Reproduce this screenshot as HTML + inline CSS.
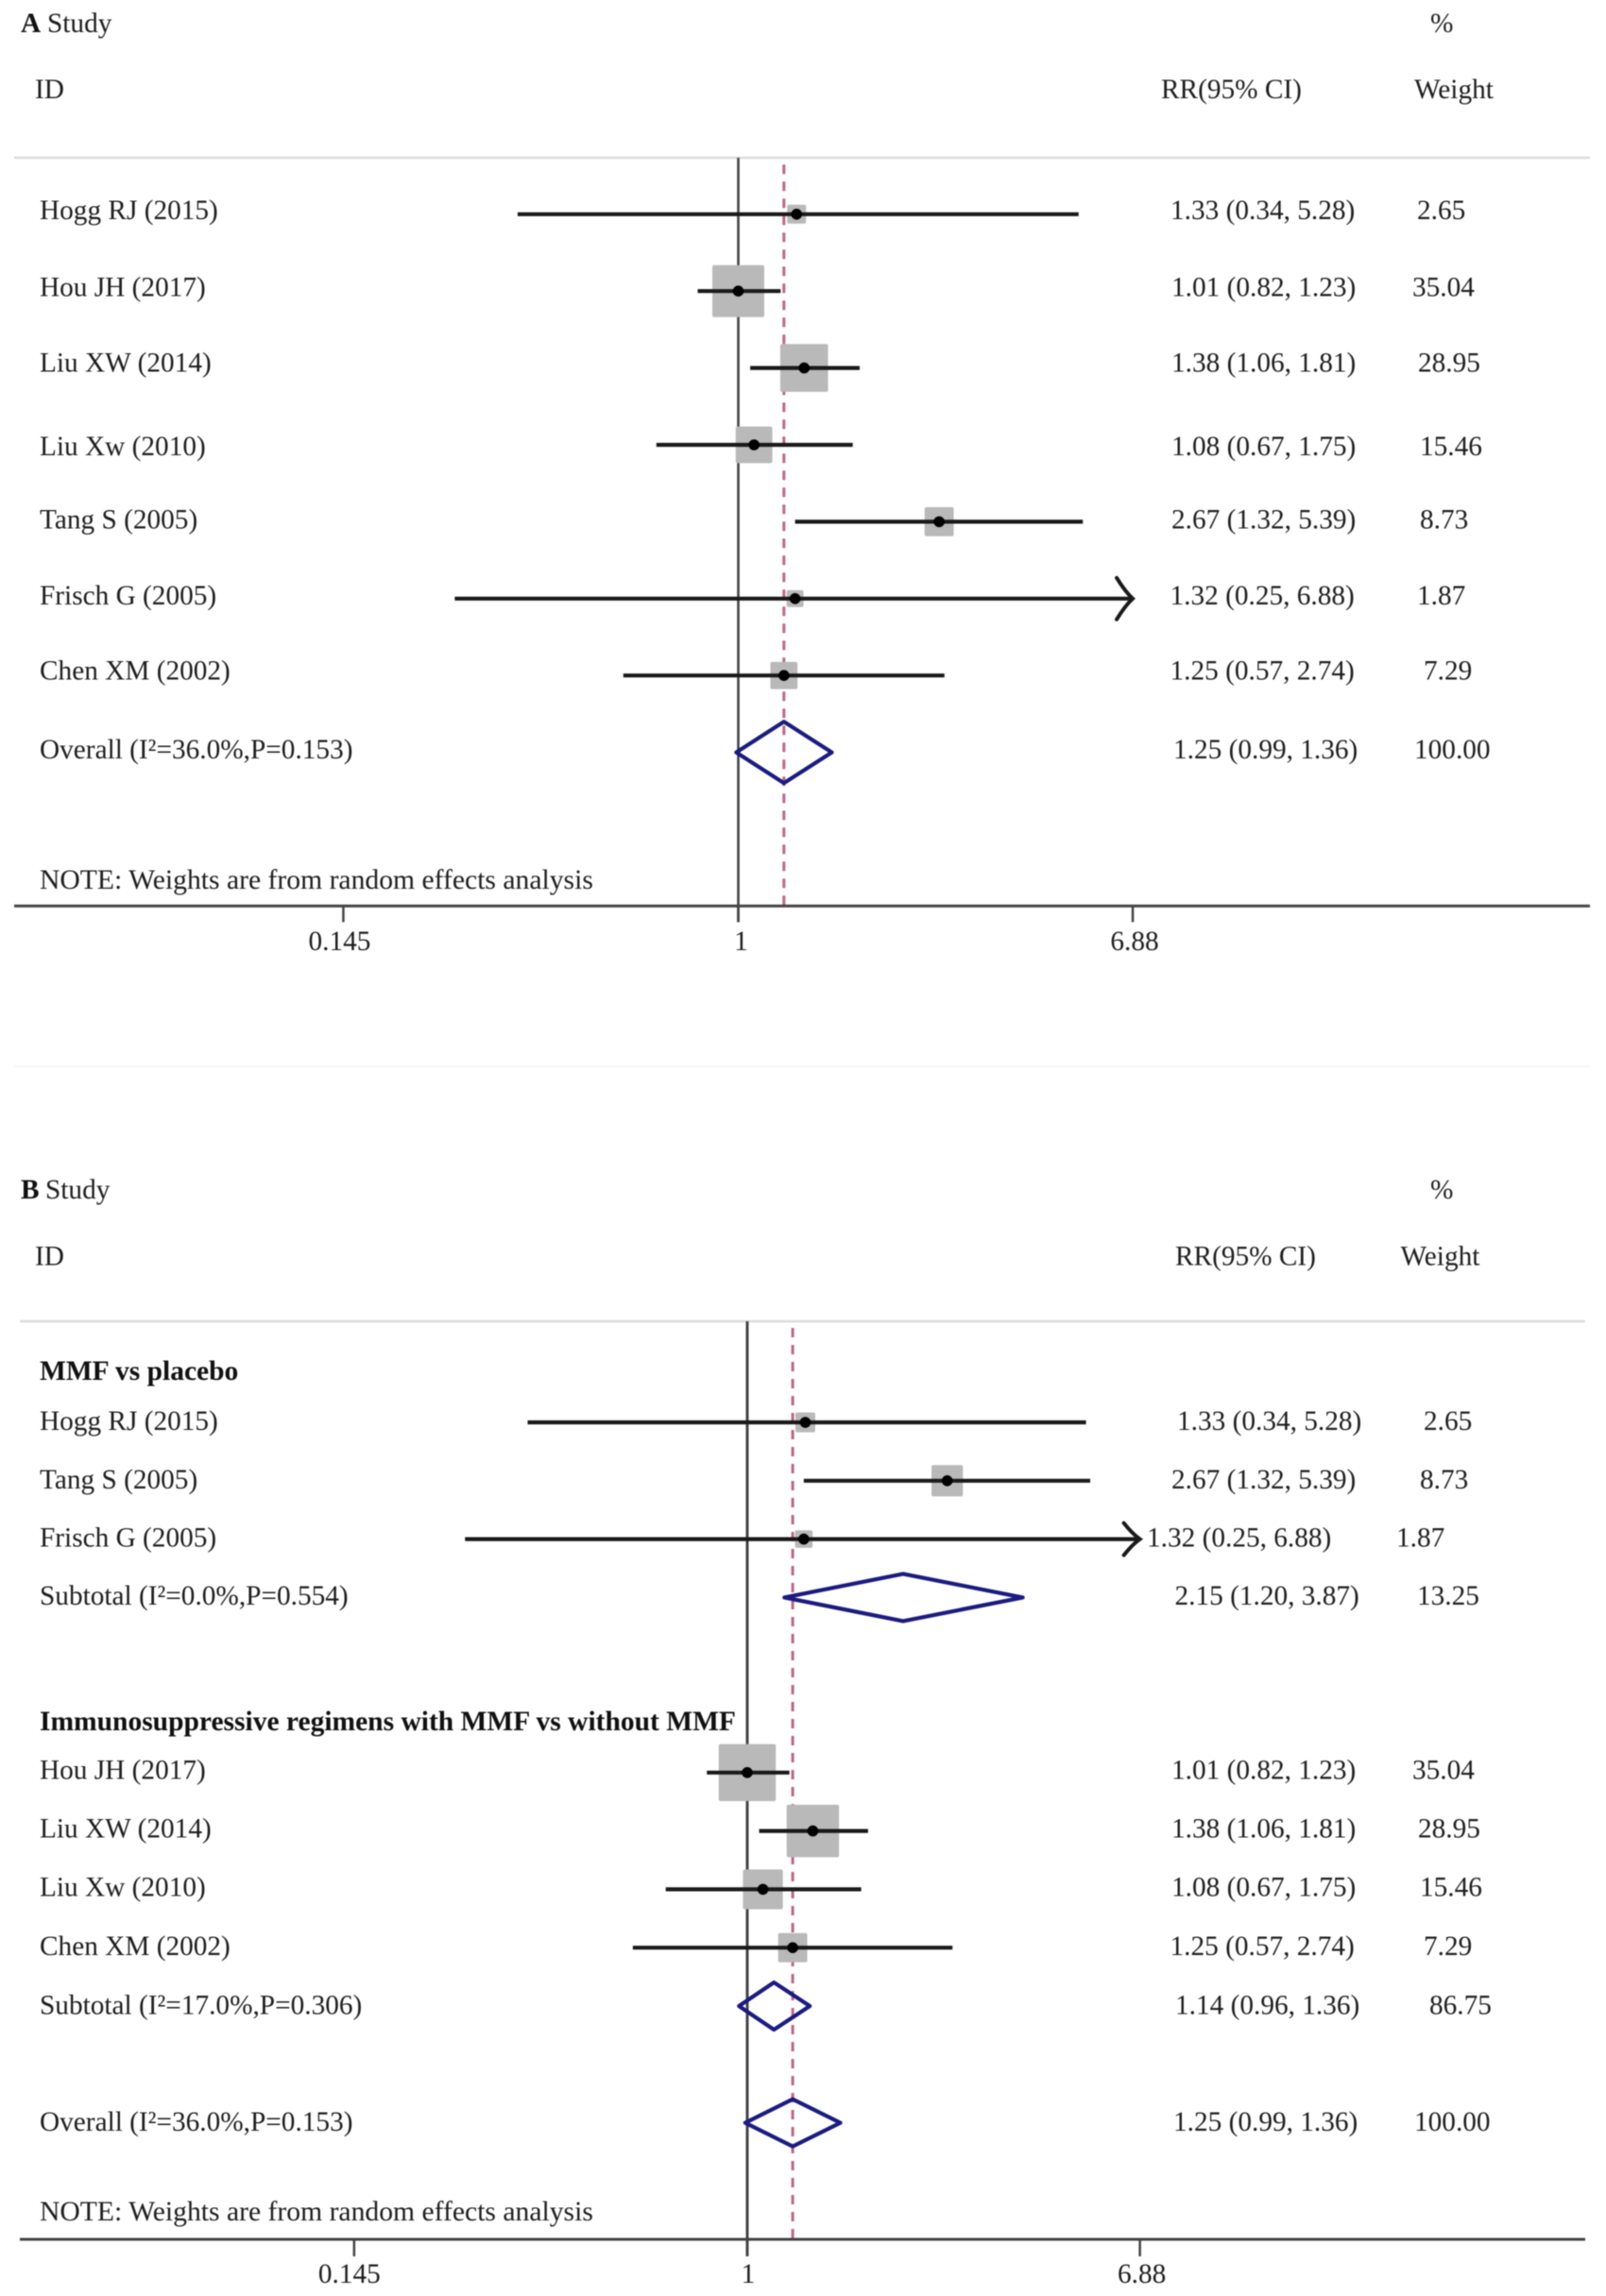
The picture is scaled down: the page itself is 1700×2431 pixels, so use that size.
<!DOCTYPE html>
<html lang="en">
<head>
<meta charset="utf-8">
<title>Forest plots</title>
<style>
html,body{margin:0;padding:0;background:#fff;width:1700px;height:2431px;overflow:hidden}
svg{display:block;filter:blur(.55px)}
text{font-family:"Liberation Serif","Times New Roman",serif;font-size:29.3px;fill:#1e1e1e}
.b{font-weight:bold;fill:#111}
.n{font-size:29.65px}
.g{font-size:29.5px}
</style>
</head>
<body>
<svg id="chart" xmlns="http://www.w3.org/2000/svg" width="1700" height="2431" viewBox="0 0 1700 2431">
<rect x="0" y="0" width="1700" height="2431" fill="#fff"/>
<line x1="15" x2="1683" y1="1129" y2="1129" stroke="#f6f6f6" stroke-width="2"/>

<g id="panelA">
<line x1="15" x2="1683" y1="167" y2="167" stroke="#dcdcdc" stroke-width="2.5"/>
<text class="b" x="22" y="34">A</text>
<text x="50" y="34">Study</text>
<text x="37" y="104">ID</text>
<text x="1229" y="104">RR(95% CI)</text>
<text x="1514" y="34">%</text>
<text x="1497" y="104">Weight</text>

<text x="42" y="232">Hogg RJ (2015)</text>
<text x="42" y="313.5">Hou JH (2017)</text>
<text x="42" y="393.5">Liu XW (2014)</text>
<text x="42" y="482">Liu Xw (2010)</text>
<text x="42" y="559.5">Tang S (2005)</text>
<text x="42" y="640">Frisch G (2005)</text>
<text x="42" y="719.5">Chen XM (2002)</text>
<text x="42" y="803">Overall (I²=36.0%,P=0.153)</text>
<text class="n" x="42" y="941">NOTE: Weights are from random effects analysis</text>

<text x="1239" y="232">1.33 (0.34, 5.28)</text>
<text x="1240" y="313.5">1.01 (0.82, 1.23)</text>
<text x="1240" y="393.5">1.38 (1.06, 1.81)</text>
<text x="1240" y="482">1.08 (0.67, 1.75)</text>
<text x="1240" y="559.5">2.67 (1.32, 5.39)</text>
<text x="1238.5" y="640">1.32 (0.25, 6.88)</text>
<text x="1238.5" y="719.5">1.25 (0.57, 2.74)</text>
<text x="1242" y="803">1.25 (0.99, 1.36)</text>

<text x="1500" y="232">2.65</text>
<text x="1495" y="313.5">35.04</text>
<text x="1501" y="393.5">28.95</text>
<text x="1503" y="482">15.46</text>
<text x="1503" y="559.5">8.73</text>
<text x="1500" y="640">1.87</text>
<text x="1507" y="719.5">7.29</text>
<text x="1497" y="803">100.00</text>
</g>

<g id="panelB">
<line x1="21" x2="1678" y1="1399" y2="1399" stroke="#dcdcdc" stroke-width="2.5"/>
<text class="b" x="22" y="1269">B</text>
<text x="48" y="1269">Study</text>
<text x="37" y="1339.5">ID</text>
<text x="1244" y="1339.5">RR(95% CI)</text>
<text x="1514" y="1269">%</text>
<text x="1482.5" y="1339.5">Weight</text>

<text class="b g" x="42" y="1461">MMF vs placebo</text>
<text x="42" y="1514">Hogg RJ (2015)</text>
<text x="42" y="1576">Tang S (2005)</text>
<text x="42" y="1637.5">Frisch G (2005)</text>
<text x="42" y="1699">Subtotal (I²=0.0%,P=0.554)</text>
<text class="b g" x="42" y="1832">Immunosuppressive regimens with MMF vs without MMF</text>
<text x="42" y="1883.5">Hou JH (2017)</text>
<text x="42" y="1945.5">Liu XW (2014)</text>
<text x="42" y="2007.5">Liu Xw (2010)</text>
<text x="42" y="2070">Chen XM (2002)</text>
<text x="42" y="2132.5">Subtotal (I²=17.0%,P=0.306)</text>
<text x="42" y="2256">Overall (I²=36.0%,P=0.153)</text>
<text class="n" x="42" y="2351">NOTE: Weights are from random effects analysis</text>

<text x="1246" y="1514">1.33 (0.34, 5.28)</text>
<text x="1240" y="1576">2.67 (1.32, 5.39)</text>
<text x="1214" y="1637.5">1.32 (0.25, 6.88)</text>
<text x="1243.5" y="1699">2.15 (1.20, 3.87)</text>
<text x="1240" y="1883.5">1.01 (0.82, 1.23)</text>
<text x="1240" y="1945.5">1.38 (1.06, 1.81)</text>
<text x="1240" y="2007.5">1.08 (0.67, 1.75)</text>
<text x="1238.5" y="2070">1.25 (0.57, 2.74)</text>
<text x="1244" y="2132.5">1.14 (0.96, 1.36)</text>
<text x="1242" y="2256">1.25 (0.99, 1.36)</text>

<text x="1507" y="1514">2.65</text>
<text x="1503" y="1576">8.73</text>
<text x="1478" y="1637.5">1.87</text>
<text x="1500" y="1699">13.25</text>
<text x="1495" y="1883.5">35.04</text>
<text x="1501" y="1945.5">28.95</text>
<text x="1503" y="2007.5">15.46</text>
<text x="1507" y="2070">7.29</text>
<text x="1513" y="2132.5">86.75</text>
<text x="1497" y="2256">100.00</text>
</g>
</svg>

<script>
// Shared axis data
const tickValues = [0.145, 1, 6.88];
const tickLabels = ["0.145", "1", "6.88"];
const nullValue = 1;
const overallEffect = 1.25;

// Panel A data (row index, drawn point estimate, CI, weight %)
const rowsA = [0, 1, 2, 3, 4, 5, 6];
const estimatesA = [1.33, 1.00, 1.38, 1.08, 2.67, 1.32, 1.25];
const lowersA = [0.34, 0.82, 1.06, 0.67, 1.32, 0.25, 0.57];
const uppersA = [5.28, 1.23, 1.81, 1.75, 5.39, 6.88, 2.74];
const weightsA = [2.65, 35.04, 28.95, 15.46, 8.73, 1.87, 7.29];
const pooledRowsA = [7];
const pooledLowersA = [0.99];
const pooledEstimatesA = [1.25];
const pooledUppersA = [1.58];

// Panel B data
const rowsB = [0, 1, 2, 6, 7, 8, 9];
const estimatesB = [1.33, 2.67, 1.32, 1.00, 1.38, 1.08, 1.25];
const lowersB = [0.34, 1.32, 0.25, 0.82, 1.06, 0.67, 0.57];
const uppersB = [5.28, 5.39, 6.88, 1.23, 1.81, 1.75, 2.74];
const weightsB = [2.65, 8.73, 1.87, 35.04, 28.95, 15.46, 7.29];
const pooledRowsB = [3, 10, 12];
const pooledLowersB = [1.20, 0.96, 0.99];
const pooledEstimatesB = [2.15, 1.14, 1.25];
const pooledUppersB = [3.87, 1.36, 1.58];

const SVGNS = "http://www.w3.org/2000/svg";
function make(parent, tag, attrs) {
  const el = document.createElementNS(SVGNS, tag);
  for (const k in attrs) el.setAttribute(k, attrs[k]);
  parent.appendChild(el);
  return el;
}

function drawPanel(p) {
  const g = document.getElementById(p.id);
  const x = v => p.x1 + p.scale * Math.log(v);
  const y = r => p.y0 + p.step * r;
  const maxV = tickValues[tickValues.length - 1];

  // null reference line
  const nullLine = make(g, "line", {x1: x(nullValue), x2: x(nullValue), y1: p.ruleY, y2: p.axisY + p.tickLen, stroke: "#444", "stroke-width": p.nullWidth});
  
  

  // overall effect dashed line, dashes counted up from the axis
  const dash = make(g, "line", {x1: x(overallEffect), x2: x(overallEffect), y1: p.axisY - 1, y2: p.ruleY, stroke: "#c0648a", "stroke-width": 3, "stroke-dasharray": "10 8"});
  
  

  // axis
  const axis = make(g, "line", {x1: p.axisL, x2: p.axisR, y1: p.axisY, y2: p.axisY, stroke: "#444", "stroke-width": 3});
  
  

  tickValues.forEach((v, i) => {
    const t = make(g, "line", {x1: x(v), x2: x(v), y1: p.axisY, y2: p.axisY + p.tickLen, stroke: "#444", "stroke-width": 2.5});
    
    
    const lab = make(g, "text", {x: x(v) + p.labelNudge[i], y: p.tickTextY, "text-anchor": "middle"});
    
    
    lab.textContent = tickLabels[i];
  });

  // studies
  p.rows.forEach((r, i) => {
    const cy = y(r);
    const s = p.boxA + p.boxB * Math.sqrt(p.weights[i]);
    const box = make(g, "rect", {x: x(p.est[i]) - s / 2, y: cy - s / 2, width: s, height: s, rx: 2, fill: "#b9b9b9"});
    
    

    const hiX = x(p.upp[i]);
    const ci = make(g, "line", {x1: x(p.low[i]), x2: hiX, y1: cy, y2: cy, stroke: "#1a1a1a", "stroke-width": 4.2});
    
    

    if (p.upp[i] >= maxV) {
      const arrow = make(g, "path", {d: "M" + (hiX - 17) + " " + (cy - p.barb) + "Q" + (hiX - 8) + " " + (cy - p.barb / 3) + " " + hiX + " " + cy + "Q" + (hiX - 8) + " " + (cy + p.barb / 3) + " " + (hiX - 17) + " " + (cy + p.barb), fill: "none", stroke: "#1a1a1a", "stroke-width": 4, "stroke-linecap": "round"});
      
      
    }

    const dot = make(g, "circle", {cx: x(p.est[i]), cy: cy, r: 5.8, fill: "#000"});
    
    
  });

  // pooled diamonds
  p.pRows.forEach((r, i) => {
    const cy = y(r);
    const pts = [[x(p.pLow[i]), cy], [x(p.pEst[i]), cy - p.diamondH], [x(p.pUpp[i]), cy], [x(p.pEst[i]), cy + p.diamondH]];
    const d = make(g, "polygon", {points: pts.map(a => a.join(",")).join(" "), fill: "none", stroke: "#1b1b80", "stroke-width": 4.2, "stroke-linejoin": "round"});
    
    
  });
}

drawPanel({id: "panelA", x1: 781.5, scale: 216.5, y0: 226.8, step: 81.4, ruleY: 167, axisY: 959.3, axisL: 15, axisR: 1683, tickLen: 17, tickTextY: 1006, nullWidth: 2.6,
  labelNudge: [-4, 3, 2],
  boxA: 6.7, boxB: 8.16, barb: 22, diamondH: 32.5,
  rows: rowsA, est: estimatesA, low: lowersA, upp: uppersA, weights: weightsA,
  pRows: pooledRowsA, pLow: pooledLowersA, pEst: pooledEstimatesA, pUpp: pooledUppersA});

drawPanel({id: "panelB", x1: 791, scale: 215.5, y0: 1506, step: 61.8, ruleY: 1399, axisY: 2371, axisL: 21, axisR: 1678, tickLen: 18, tickTextY: 2417, nullWidth: 3,
  labelNudge: [-5, 1, 2],
  boxA: 6, boxB: 9.2, barb: 17, diamondH: 25,
  rows: rowsB, est: estimatesB, low: lowersB, upp: uppersB, weights: weightsB,
  pRows: pooledRowsB, pLow: pooledLowersB, pEst: pooledEstimatesB, pUpp: pooledUppersB});
</script>
</body>
</html>
